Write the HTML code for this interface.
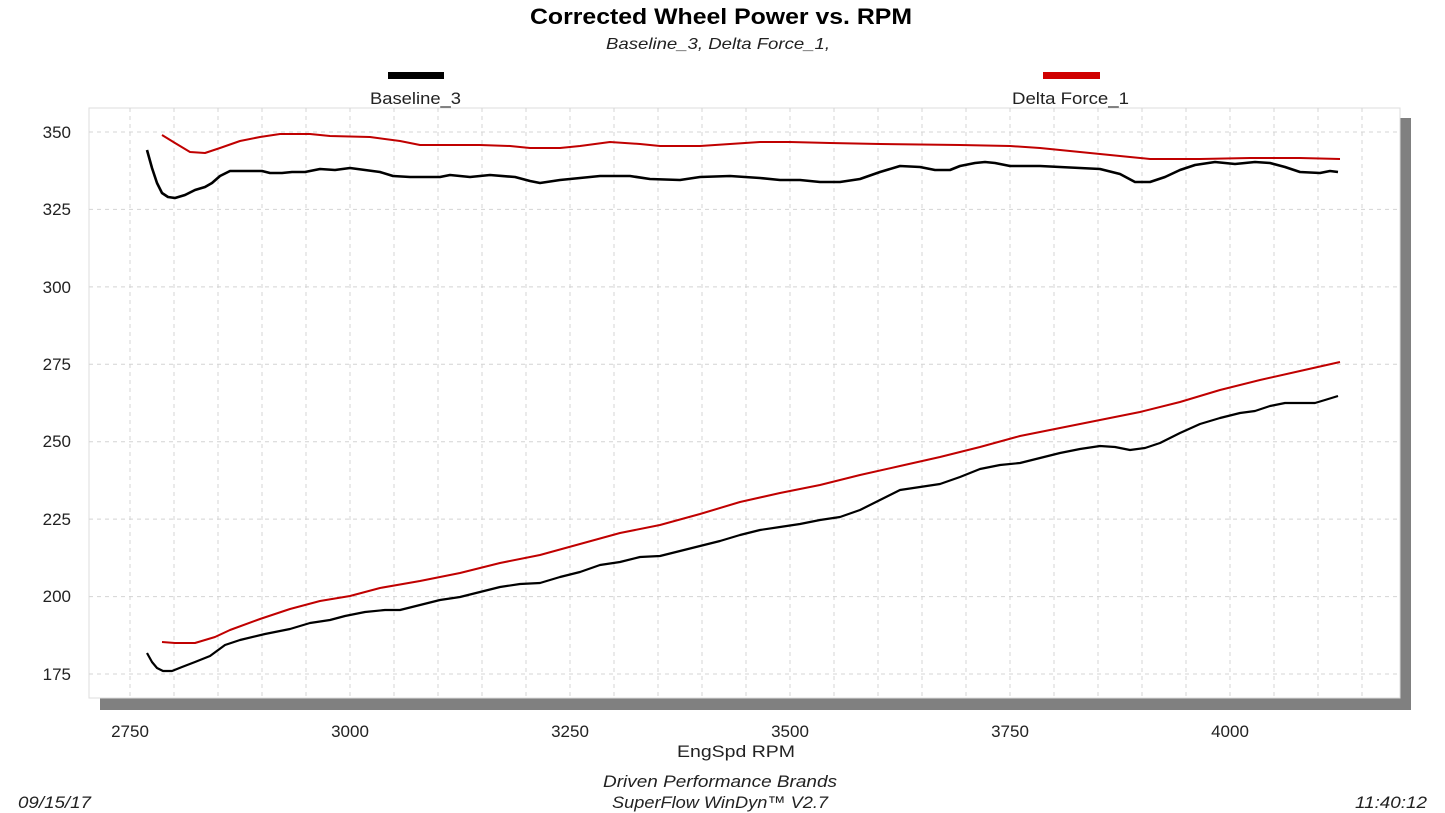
<!DOCTYPE html>
<html><head><meta charset="utf-8"><style>
html,body{margin:0;padding:0;background:#fff;}
svg{display:block;font-family:"Liberation Sans",Arial,sans-serif;}
</style></head><body>
<svg width="1445" height="813" viewBox="0 0 1445 813" xmlns="http://www.w3.org/2000/svg">
<rect width="1445" height="813" fill="#fff"/>
<text x="530" y="24" textLength="382" lengthAdjust="spacingAndGlyphs" font-size="22" font-weight="bold" fill="#000">Corrected Wheel Power vs. RPM</text>
<text x="606" y="49" textLength="224" lengthAdjust="spacingAndGlyphs" font-size="16" font-style="italic" fill="#222">Baseline_3, Delta Force_1,</text>
<rect x="388" y="72" width="56" height="7" fill="#000"/>
<text x="370" y="104" textLength="91" lengthAdjust="spacingAndGlyphs" font-size="17" fill="#222">Baseline_3</text>
<rect x="1043" y="72" width="57" height="7" fill="#d00000"/>
<text x="1012" y="104" textLength="117" lengthAdjust="spacingAndGlyphs" font-size="17" fill="#222">Delta Force_1</text>
<rect x="100" y="118" width="1311" height="592" fill="#808080"/>
<rect x="89" y="108" width="1311" height="590" fill="#fff" stroke="#ddd" stroke-width="1"/>
<g stroke="#d4d4d4" stroke-width="1" stroke-dasharray="4,4">
<path d="M130 108V698M174 108V698M218 108V698M262 108V698M306 108V698M350 108V698M394 108V698M438 108V698M482 108V698M526 108V698M570 108V698M614 108V698M658 108V698M702 108V698M746 108V698M790 108V698M834 108V698M878 108V698M922 108V698M966 108V698M1010 108V698M1054 108V698M1098 108V698M1142 108V698M1186 108V698M1230 108V698M1274 108V698M1318 108V698M1362 108V698"/>
<path d="M89 132H1400M89 209.4H1400M89 286.9H1400M89 364.3H1400M89 441.7H1400M89 519.1H1400M89 596.6H1400M89 674H1400"/>
</g>
<g font-size="17" fill="#222" text-anchor="end">
<text x="71" y="138">350</text><text x="71" y="215">325</text><text x="71" y="293">300</text><text x="71" y="370">275</text><text x="71" y="447">250</text><text x="71" y="525">225</text><text x="71" y="602">200</text><text x="71" y="680">175</text>
</g>
<g font-size="17" fill="#222" text-anchor="middle">
<text x="130" y="737">2750</text><text x="350" y="737">3000</text><text x="570" y="737">3250</text><text x="790" y="737">3500</text><text x="1010" y="737">3750</text><text x="1230" y="737">4000</text>
</g>
<text x="677" y="757" textLength="118" lengthAdjust="spacingAndGlyphs" font-size="17" fill="#222">EngSpd  RPM</text>
<g fill="none" stroke-linejoin="round">
<polyline stroke="#000" stroke-width="2.6" points="147,150 152,168 157,183 162,193 168,197 175,198 185,195 195,190 205,187 212,183 220,176 230,171 245,171 262,171 270,173 282,173 292,172 305,172 320,169 335,170 350,168 365,170 380,172 393,176 410,177 440,177 450,175 470,177 490,175 515,177 530,181 540,183 560,180 580,178 600,176 630,176 650,179 680,180 700,177 730,176 760,178 780,180 800,180 820,182 840,182 860,179 880,172 900,166 920,167 935,170 950,170 960,166 975,163 985,162 995,163 1010,166 1040,166 1060,167 1080,168 1100,169 1120,174 1135,182 1150,182 1165,177 1180,170 1195,165 1215,162 1235,164 1255,162 1270,163 1285,167 1300,172 1320,173 1330,171 1338,172"/>
<polyline stroke="#000" stroke-width="2.2" points="147,653 152,662 157,668 163,671 172,671 182,667 195,662 210,656 225,645 240,640 265,634 290,629 310,623 330,620 345,616 365,612 385,610 400,610 420,605 440,600 460,597 480,592 500,587 520,584 540,583 560,577 580,572 600,565 620,562 640,557 660,556 680,551 700,546 720,541 740,535 760,530 780,527 800,524 820,520 840,517 860,510 880,500 900,490 920,487 940,484 960,477 980,469 1000,465 1020,463 1040,458 1060,453 1080,449 1100,446 1115,447 1130,450 1145,448 1160,443 1180,433 1200,424 1220,418 1240,413 1255,411 1270,406 1285,403 1300,403 1315,403 1325,400 1338,396"/>
<polyline stroke="#c00000" stroke-width="2" points="162,135 175,143 190,152 205,153 220,148 240,141 260,137 280,134 310,134 330,136 370,137 400,141 420,145 480,145 510,146 530,148 560,148 580,146 610,142 640,144 660,146 700,146 730,144 760,142 790,142 830,143 880,144 960,145 1010,146 1040,148 1070,151 1100,154 1130,157 1150,159 1200,159 1250,158 1300,158 1340,159"/>
<polyline stroke="#c00000" stroke-width="2" points="162,642 175,643 195,643 215,637 230,630 260,619 290,609 320,601 350,596 380,588 420,581 460,573 500,563 540,555 580,544 620,533 660,525 700,514 740,502 780,493 820,485 860,475 900,466 940,457 980,447 1020,436 1060,428 1100,420 1140,412 1180,402 1220,390 1260,380 1300,371 1340,362"/>
</g>
<g font-size="17" font-style="italic" fill="#222">
<text x="603" y="787" textLength="234" lengthAdjust="spacingAndGlyphs">Driven Performance Brands</text>
<text x="612" y="808" textLength="216" lengthAdjust="spacingAndGlyphs">SuperFlow WinDyn™  V2.7</text>
<text x="18" y="808" textLength="73" lengthAdjust="spacingAndGlyphs">09/15/17</text>
<text x="1355" y="808" textLength="72" lengthAdjust="spacingAndGlyphs">11:40:12</text>
</g>
</svg>
</body></html>
